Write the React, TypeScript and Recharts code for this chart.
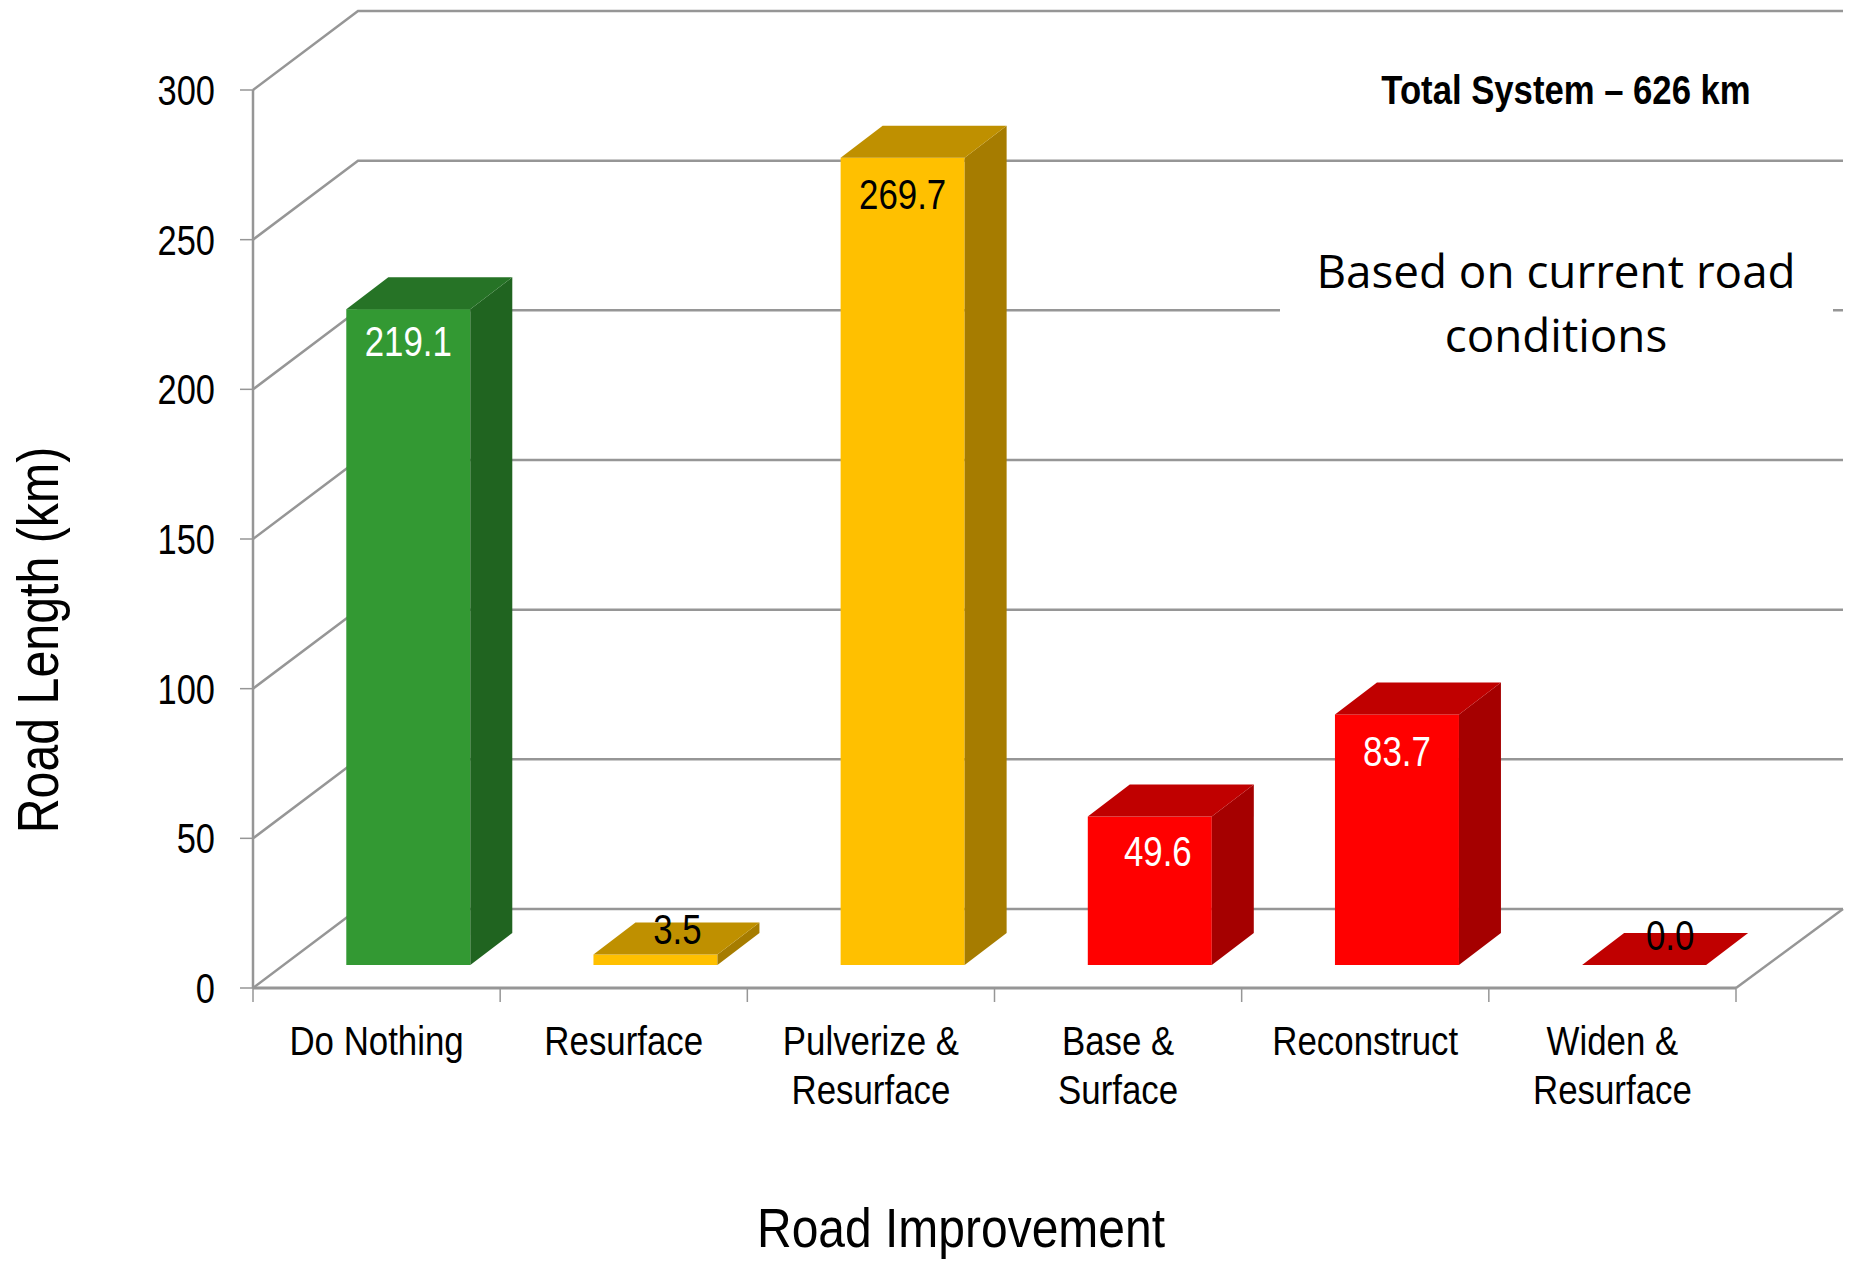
import React from "react";
import { BarChart, Bar, XAxis, YAxis, CartesianGrid, LabelList, Cell } from "recharts";

const categories = ["Do Nothing", "Resurface", "Pulverize & Resurface", "Base & Surface", "Reconstruct", "Widen & Resurface"];
const roadLength = [219.1, 3.5, 269.7, 49.6, 83.7, 0.0];
const yTicks = [0, 50, 100, 150, 200, 250, 300];
const frontColors = ["#339933", "#FFC000", "#FFC000", "#FF0000", "#FF0000", "#FF0000"];
const topColors = ["#267326", "#BF9000", "#BF9000", "#C00000", "#C00000", "#C00000"];
const sideColors = ["#206420", "#A67C00", "#A67C00", "#A50000", "#A50000", "#A50000"];
const labelColors = ["#FFFFFF", "#000000", "#000000", "#FFFFFF", "#FFFFFF", "#000000"];

const rows = categories.map((name, i) => ({ name, km: roadLength[i] }));

const WIDTH = 1851;
const HEIGHT = 1261;
const MARGIN = { top: 90, right: 115, bottom: 173, left: 153 };
const Y_AXIS_WIDTH = 100;
const BAND = (WIDTH - MARGIN.left - MARGIN.right - Y_AXIS_WIDTH) / categories.length;
const SANS = "'Liberation Sans', Arial, sans-serif";
const LINE = "#969696";

// Depth of the chart's back wall and of each box, in pixels.
const WALL_DX = 105;
const WALL_DY = 79;
const WALL_RUNOUT = 2;
const BOX_SHIFT_X = 31.5;
const BOX_SHIFT_Y = 23;
const BOX_DX = 42;
const BOX_DY = 32;

// Where each value label sits relative to the centre of its box's front edge.
const labelDx = [0, 22, 0, 8, 0, 26];
const labelDy = [32, -26, 36, 34, 36, -30];

// Condensed sans text: the regular face drawn narrower around its anchor.
function Squeezed(props: any) {
  const { x, y, squeeze, rotate = 0, children, ...rest } = props;
  return (
    <text transform={`translate(${x} ${y}) rotate(${rotate}) scale(${squeeze} 1)`} fontFamily={SANS} fill="#000" {...rest}>
      {children}
    </text>
  );
}

function Box(props: any) {
  const { x, y, width, height, index } = props;
  const l = x + BOX_SHIFT_X;
  const t = y - BOX_SHIFT_Y;
  const r = l + width;
  const b = t + height;
  return (
    <g>
      {height > 0 && <rect x={l} y={t} width={width} height={height} fill={frontColors[index]} />}
      {height > 0 && (
        <polygon
          points={`${r},${t} ${r + BOX_DX},${t - BOX_DY} ${r + BOX_DX},${b - BOX_DY} ${r},${b}`}
          fill={sideColors[index]}
        />
      )}
      <polygon
        points={`${l},${t} ${l + BOX_DX},${t - BOX_DY} ${r + BOX_DX},${t - BOX_DY} ${r},${t}`}
        fill={topColors[index]}
      />
    </g>
  );
}

function WallLine(props: any) {
  const { x1, x2, y1 } = props;
  const isFloor = Math.abs(y1 - (HEIGHT - MARGIN.bottom - 100)) < 2;
  const backRight = x2 + WALL_DX + WALL_RUNOUT;
  return (
    <g fill="none" stroke={LINE} strokeWidth={2.5}>
      <polyline points={`${x1},${y1} ${x1 + WALL_DX},${y1 - WALL_DY} ${backRight},${y1 - WALL_DY}`} />
      {isFloor && <line x1={x2} y1={y1} x2={backRight} y2={y1 - WALL_DY} />}
    </g>
  );
}

// Category name with tick marks on the band edges rather than its centre.
function CategoryTick(props: any) {
  const { x, y, payload, index } = props;
  const lines = String(payload.value).replace("& ", "&\n").split("\n");
  const axisY = y - 2;
  const edges = index === categories.length - 1 ? [x - BAND / 2, x + BAND / 2] : [x - BAND / 2];
  return (
    <g>
      {edges.map((ex) => (
        <line key={ex} x1={ex} x2={ex} y1={axisY} y2={axisY + 14} stroke={LINE} strokeWidth={1.5} />
      ))}
      {lines.map((line, i) => (
        <Squeezed key={line} x={x} y={axisY + 67 + i * 49} squeeze={0.85} textAnchor="middle" fontSize={41}>
          {line}
        </Squeezed>
      ))}
    </g>
  );
}

function ValueTick(props: any) {
  const { x, y, payload } = props;
  return (
    <Squeezed x={x} y={y} squeeze={0.82} dy="0.36em" textAnchor="end" fontSize={42}>
      {payload.value}
    </Squeezed>
  );
}

function ValueLabel(props: any) {
  const { x, y, width, index, value } = props;
  const cx = x + BOX_SHIFT_X + width / 2 + labelDx[index];
  const cy = y - BOX_SHIFT_Y + labelDy[index];
  return (
    <Squeezed x={cx} y={cy} squeeze={0.83} dy="0.36em" textAnchor="middle" fontSize={42} fill={labelColors[index]}>
      {Number(value).toFixed(1)}
    </Squeezed>
  );
}

export default function App() {
  return (
    <div style={{ position: "absolute", left: 0, top: 0, width: WIDTH, height: HEIGHT, background: "#fff", overflow: "hidden" }}>
      <BarChart width={WIDTH} height={HEIGHT} data={rows} margin={MARGIN} barCategoryGap="25%">
        <CartesianGrid vertical={false} horizontal={(p: any) => <WallLine key={p.index} {...p} />} />
        <XAxis
          dataKey="name"
          height={100}
          interval={0}
          axisLine={{ stroke: LINE, strokeWidth: 3 }}
          tickLine={false}
          tickSize={0}
          tickMargin={2}
          tick={<CategoryTick />}
        />
        <YAxis
          width={Y_AXIS_WIDTH}
          domain={[0, 300]}
          ticks={yTicks}
          interval={0}
          axisLine={{ stroke: LINE, strokeWidth: 2.5 }}
          tickLine={{ stroke: LINE, strokeWidth: 1.5 }}
          tickSize={13}
          tickMargin={25}
          tick={<ValueTick />}
        />
        <Bar dataKey="km" isAnimationActive={false} shape={<Box />}>
          {rows.map((row) => (
            <Cell key={row.name} />
          ))}
          <LabelList dataKey="km" content={<ValueLabel />} />
        </Bar>
      </BarChart>

      <svg width={WIDTH} height={HEIGHT} style={{ position: "absolute", left: 0, top: 0 }}>
        <rect x={1280} y={235} width={553} height={140} fill="#fff" />
        <text x={1556} y={288} textAnchor="middle" fontFamily="'Open Sans', sans-serif" fontSize={45.8} fill="#000">
          Based on current road
        </text>
        <text x={1556} y={352} textAnchor="middle" fontFamily="'Open Sans', sans-serif" fontSize={45.8} fill="#000">
          conditions
        </text>
        <Squeezed x={1566} y={104} squeeze={0.867} textAnchor="middle" fontWeight="bold" fontSize={40}>
          Total System – 626 km
        </Squeezed>
        <Squeezed x={961} y={1247} squeeze={0.857} textAnchor="middle" fontSize={56}>
          Road Improvement
        </Squeezed>
        <Squeezed x={58} y={640} rotate={-90} squeeze={0.833} textAnchor="middle" fontSize={58}>
          Road Length (km)
        </Squeezed>
      </svg>
    </div>
  );
}
